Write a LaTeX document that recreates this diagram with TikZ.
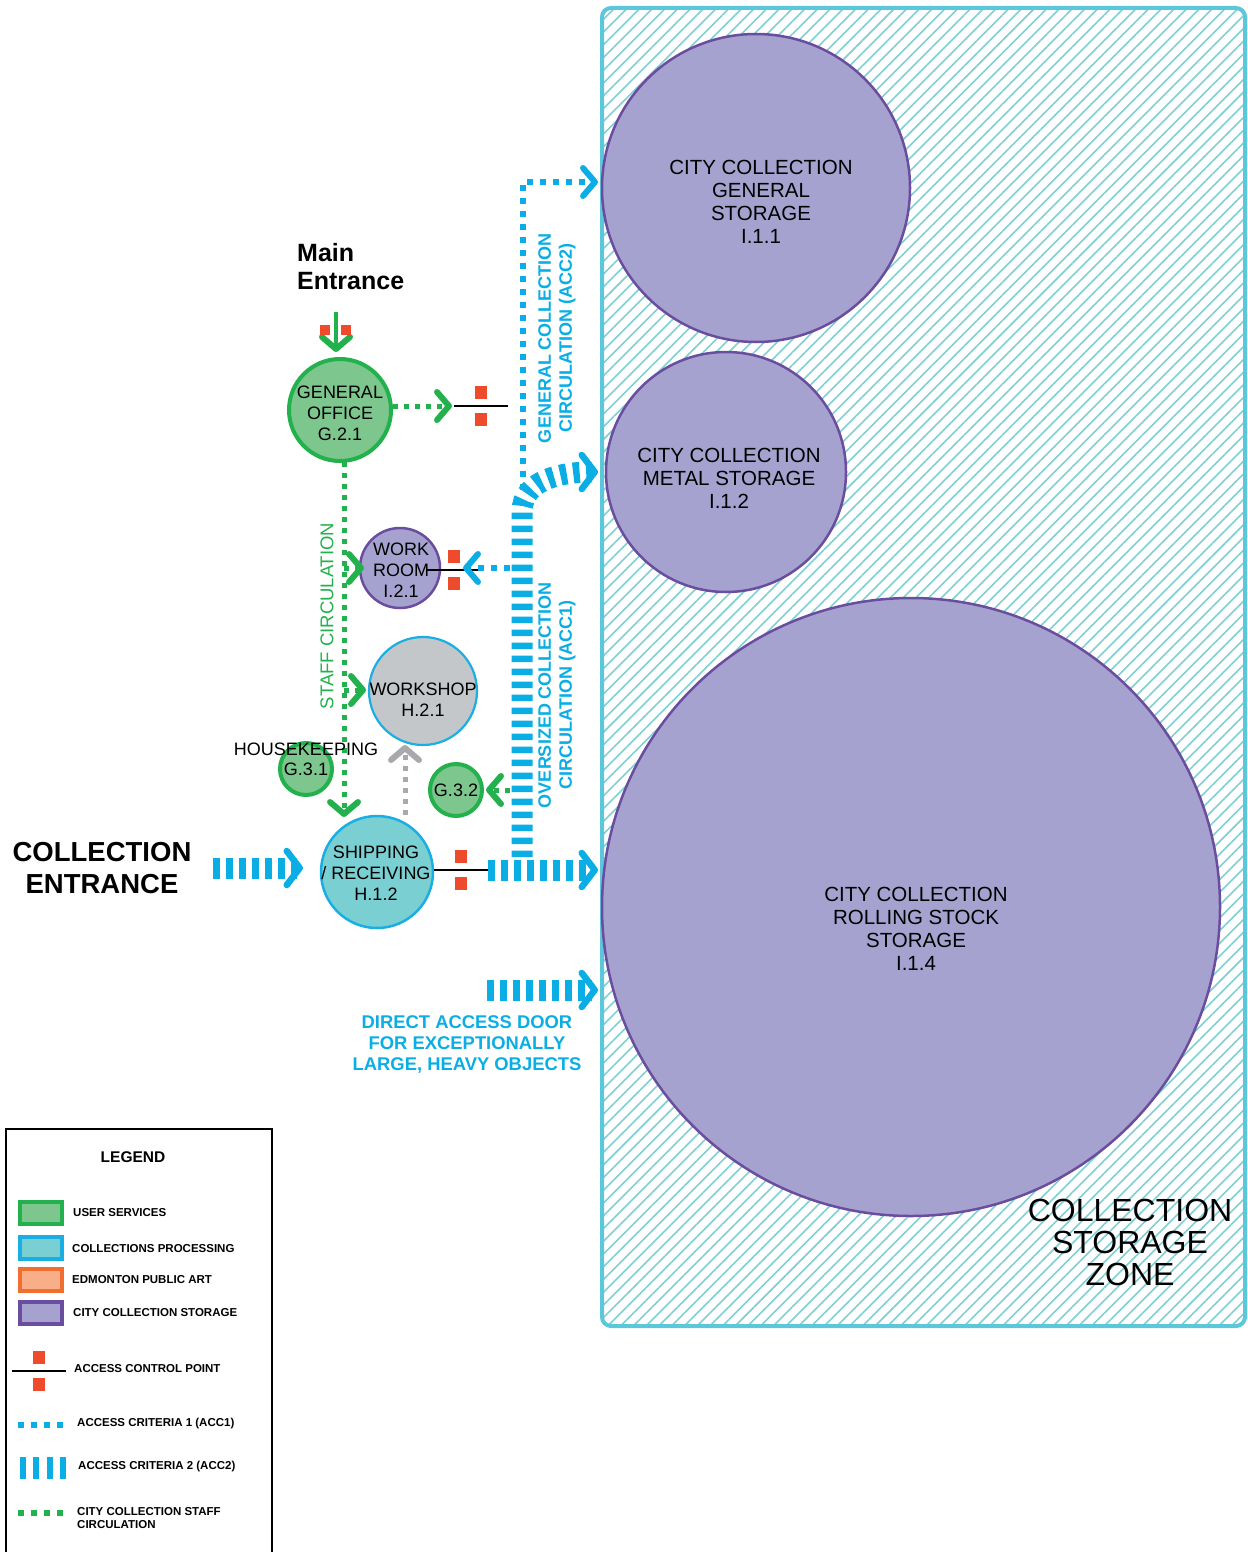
\documentclass[tikz,border=0pt]{standalone}
\usepackage{fontspec}
\setmainfont{Liberation Sans}
\usetikzlibrary{arrows.meta,patterns.meta}

\definecolor{usergreen}{HTML}{22B14C}
\definecolor{userfill}{HTML}{7DC68E}
\definecolor{procblue}{HTML}{1AAEE3}
\definecolor{procfill}{HTML}{7ACFD2}
\definecolor{storeline}{HTML}{6B4D9F}
\definecolor{storefill}{HTML}{A6A2CF}
\definecolor{artline}{HTML}{F26E2F}
\definecolor{artfill}{HTML}{F8AE88}
\definecolor{shopfill}{HTML}{C4C7C9}
\definecolor{accblue}{HTML}{0AAEE4}
\definecolor{acpred}{HTML}{EE4B2C}
\definecolor{zoneline}{HTML}{5CC7DB}
\definecolor{hatchc}{HTML}{7ED0D5}
\definecolor{arrowgray}{HTML}{A7A9AC}

\tikzset{
  bigchev/.tip={Straight Barb[length=13pt,width=34pt,line width=6.5pt,round]},
  smallchev/.tip={Straight Barb[length=12pt,width=28pt,line width=6pt,round]},
  acp/.pic={
    \draw[black,line width=1.6pt] (-27,0) coordinate (-w) -- (27,0) coordinate (-e);
    \node[acpsq] (-up) at (0,-13.5) {};
    \node[acpsq] (-dn) at (0,13.5) {};
  }
}

\begin{document}
\begin{tikzpicture}[x=1pt,y=-1pt,
    room/.style={circle,inner sep=0pt},
    usernode/.style={room,draw=usergreen,fill=userfill,line width=4pt},
    procnode/.style={room,draw=procblue,fill=procfill,line width=2.5pt},
    storenode/.style={room,draw=storeline,fill=storefill,line width=2.5pt},
    shopnode/.style={room,draw=procblue,fill=shopfill,line width=2.5pt},
    roomtext/.style={align=center,inner sep=0pt,font=\fontsize{18}{21}\selectfont},
    bigtext/.style={align=center,inner sep=0pt,font=\fontsize{20.5}{23}\selectfont},
    acpsq/.style={rectangle,fill=acpred,minimum size=12.5pt,inner sep=0pt},
    accone/.style={draw=accblue,line width=6pt,dash pattern=on 6pt off 7pt},
    acctwo/.style={draw=accblue,line width=21pt,dash pattern=on 6.5pt off 6.5pt},
    staff/.style={draw=usergreen,line width=5pt,dash pattern=on 5pt off 6pt},
    swatch/.style={rectangle,minimum width=42pt,minimum height=22pt,line width=3.5pt,inner sep=0pt},
    legtext/.style={anchor=west,align=left,inner sep=0pt,font=\bfseries\fontsize{11.5}{12.5}\selectfont},
  ]
  \useasboundingbox (0,0) rectangle (1247,1552);

  %% storage zone
  \draw[draw=zoneline,line width=4pt,rounded corners=9pt,
    pattern={Lines[angle=45,distance=9pt,line width=1.6pt]},pattern color=hatchc]
    (602,8) rectangle (1245,1326);
  \node[font=\fontsize{32}{32}\selectfont,align=center] (zone-lbl) at (1130,1242) {COLLECTION\\STORAGE\\ZONE};

  %% storage rooms
  \node[storenode,minimum size=308pt] (gs) at (756,188) {};
  \node[bigtext] (gs-txt) at (761,202) {CITY COLLECTION\\GENERAL\\STORAGE\\I.1.1};
  \node[storenode,minimum size=240pt] (ms) at (726,472) {};
  \node[bigtext] (ms-txt) at (729,478) {CITY COLLECTION\\METAL STORAGE\\I.1.2};
  \node[storenode,minimum size=618pt] (rs) at (911,907) {};
  \node[bigtext] (rs-txt) at (916,929) {CITY COLLECTION\\ROLLING STOCK\\STORAGE\\I.1.4};

  %% small rooms
  \node[usernode,minimum size=102pt] (go) at (340,410) {};
  \node[roomtext] (go-txt) at (340,413) {GENERAL\\OFFICE\\G.2.1};
  \node[storenode,minimum size=80pt] (wr) at (400,568) {};
  \node[shopnode,line width=2.2pt,minimum size=108pt] (ws) at (423,691) {};
  \node[usernode,minimum size=52pt] (hk) at (306,769) {};
  \node[usernode,minimum size=52pt] (gt) at (456,790) {};
  \node[procnode,minimum size=112pt] (sr) at (377,872) {};

  %% access control points
  \pic (go-acp) at (481,406) {acp};
  \pic (wr-acp) at (454,570) {acp};
  \pic (sr-acp) at (461,870) {acp};

  %% main entrance
  \node[anchor=west,align=left,inner sep=0pt,font=\bfseries\fontsize{25}{28}\selectfont] (me-lbl) at (297,267) {Main\\Entrance};
  \coordinate (me) at (336,312);
  \draw[usergreen,line width=4.5pt,-smallchev,shorten >=5pt] (me) -- (me |- go.north);
  \node[acpsq,minimum size=10pt] (me-sq1) at (325,330) {};
  \node[acpsq,minimum size=10pt] (me-sq2) at (346,330) {};

  %% staff circulation
  \coordinate (go-out) at (452,406);
  \draw[staff,-smallchev] (go-out -| go.east) -- (go-out);
  \coordinate (st-top) at (344,462);
  \coordinate (st-bot) at (344,817);
  \coordinate (st-wr) at (344,568);
  \coordinate (st-ws) at (344,690);
  \coordinate (wr-in) at (364,568);
  \coordinate (ws-in) at (366,690);
  \draw[staff,-smallchev] (st-top) -- (st-bot);
  \draw[staff,-smallchev] (st-wr) -- (wr-in);
  \draw[staff,-smallchev] (st-ws) -- (ws-in);
  \coordinate (gt-out) at (510,790);
  \coordinate (gt-in) at (486,790);
  \draw[staff,-smallchev] (gt-out) -- (gt-in);
  \node[rotate=90,text=usergreen,font=\fontsize{18.5}{21}\selectfont] (st-lbl) at (327,616) {STAFF CIRCULATION};

  %% shipping to workshop
  \coordinate (sr-up) at (405,815);
  \coordinate (ws-dn) at (405,745);
  \draw[arrowgray,line width=5pt,dash pattern=on 5pt off 6pt,-smallchev] (sr-up) -- (ws-dn);

  %% general collection circulation
  \coordinate (acc1-start) at (523,490);
  \coordinate (gs-tip) at (598,182);
  \draw[accone,-smallchev] (acc1-start) |- (gs-tip);
  \coordinate (wr-out) at (510,568);
  \coordinate (wr-tip) at (463,568);
  \draw[accone,-smallchev] (wr-out) -- (wr-tip);
  \node[rotate=90,text=accblue,align=center,font=\bfseries\fontsize{18}{21}\selectfont] (acc1-lbl) at (557,338) {GENERAL COLLECTION\\CIRCULATION (ACC2)};

  %% oversized collection circulation
  \coordinate (acc2-start) at (522,857);
  \coordinate (acc2-bend) at (522,512);
  \coordinate (ms-tip) at (598,472);
  \draw[acctwo,-bigchev] (acc2-start) -- (acc2-bend) to[out=90,in=180] (ms-tip);
  \coordinate (rs-tip) at (598,870);
  \draw[acctwo,-bigchev] (sr-acp-e) -- (rs-tip);
  \coordinate (ce-start) at (213,868);
  \coordinate (ce-tip) at (303,868);
  \draw[acctwo,-bigchev] (ce-start) -- (ce-tip);
  \coordinate (door-start) at (487,990);
  \coordinate (door-tip) at (598,990);
  \draw[acctwo,-bigchev] (door-start) -- (door-tip);
  \node[rotate=90,text=accblue,align=center,font=\bfseries\fontsize{18}{21}\selectfont] (acc2-lbl) at (557,695) {OVERSIZED COLLECTION\\CIRCULATION (ACC1)};

  %% room labels on top
  \node[roomtext] (wr-txt) at (401,570) {WORK\\ROOM\\I.2.1};
  \node[roomtext] (ws-txt) at (423,700) {WORKSHOP\\H.2.1};
  \node[roomtext,font=\fontsize{18}{20}\selectfont] (hk-txt) at (306,759) {HOUSEKEEPING\\G.3.1};
  \node[roomtext] (gt-txt) at (456,790) {G.3.2};
  \node[roomtext] (sr-txt) at (376,873) {SHIPPING\\/ RECEIVING\\H.1.2};

  %% entrance and door labels
  \node[align=center,font=\bfseries\fontsize{27.5}{32}\selectfont] (ce-lbl) at (102,868) {COLLECTION\\ENTRANCE};
  \node[align=center,text=accblue,font=\bfseries\fontsize{18.4}{21}\selectfont] (door-lbl) at (467,1044) {DIRECT ACCESS DOOR\\FOR EXCEPTIONALLY\\LARGE, HEAVY OBJECTS};

  %% legend
  \draw[line width=1.2pt] (6,1552) -- (6,1129) -- (272,1129) -- (272,1552);
  \node[font=\bfseries\fontsize{15.5}{18}\selectfont] (leg-title) at (133,1157) {LEGEND};
  \node[swatch,draw=usergreen,fill=userfill] (leg-user) at (41,1213) {};
  \node[swatch,draw=procblue,fill=procfill] (leg-proc) at (41,1248) {};
  \node[swatch,draw=artline,fill=artfill] (leg-art) at (41,1280) {};
  \node[swatch,draw=storeline,fill=storefill] (leg-store) at (41,1313) {};
  \node[legtext] (leg-user-txt) at (73,1213) {USER SERVICES};
  \node[legtext] (leg-proc-txt) at (72,1249) {COLLECTIONS PROCESSING};
  \node[legtext] (leg-art-txt) at (72,1280) {EDMONTON PUBLIC ART};
  \node[legtext] (leg-store-txt) at (73,1313) {CITY COLLECTION STORAGE};
  \pic (leg-acp) at (39,1371) {acp};
  \node[legtext] (leg-acp-txt) at (74,1369) {ACCESS CONTROL POINT};
  \coordinate (leg-a1-w) at (18,1425);
  \coordinate (leg-a1-e) at (64,1425);
  \draw[accone] (leg-a1-w) -- (leg-a1-e);
  \node[legtext] (leg-a1-txt) at (77,1424) {ACCESS CRITERIA 1 (ACC1)};
  \coordinate (leg-a2-w) at (20,1468);
  \coordinate (leg-a2-e) at (66,1468);
  \draw[accblue,line width=22pt,dash pattern=on 6pt off 7.3pt] (leg-a2-w) -- (leg-a2-e);
  \node[legtext] (leg-a2-txt) at (78,1467) {ACCESS CRITERIA 2 (ACC2)};
  \coordinate (leg-st-w) at (18,1513);
  \coordinate (leg-st-e) at (64,1513);
  \draw[usergreen,line width=6pt,dash pattern=on 6pt off 7pt] (leg-st-w) -- (leg-st-e);
  \node[legtext] (leg-st-txt) at (77,1518) {CITY COLLECTION STAFF\\CIRCULATION};
\end{tikzpicture}
\end{document}
